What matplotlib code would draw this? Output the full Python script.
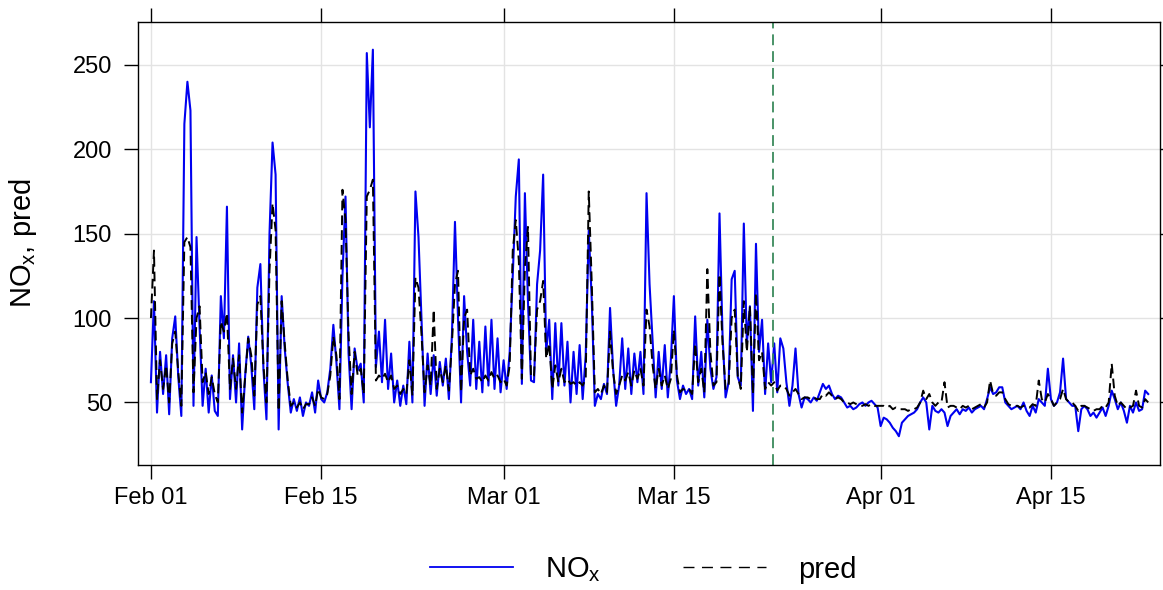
import matplotlib
matplotlib.use('Agg')
import matplotlib.pyplot as plt
from matplotlib.lines import Line2D
import pandas as pd

plt.rcParams['font.family'] = ['Liberation Sans', 'DejaVu Sans']
plt.rcParams['mathtext.default'] = 'regular'

start = '2020-02-01'
lockdown = '2020-03-23 04:00'

# 6-hourly values, one row per day (00h, 06h, 12h, 18h)
nox = [
    # Feb
    62, 110, 44, 80,
    55, 78, 43, 88,
    101, 65, 42, 215,
    240, 223, 48, 148,
    95, 48, 70, 44,
    66, 45, 42, 113,
    88, 166, 52, 78,
    50, 85, 34, 66,
    89, 72, 46, 118,
    132, 70, 40, 150,
    204, 185, 34, 113,
    82, 61, 44, 52,
    45, 53, 42, 50,
    48, 56, 44, 63,
    52, 50, 56, 70,
    96, 74, 46, 125,
    172, 79, 46, 82,
    69, 73, 50, 257,
    213, 259, 71, 92,
    62, 99, 58, 79,
    50, 63, 48, 60,
    49, 86, 50, 175,
    148, 99, 48, 79,
    55, 78, 54, 74,
    60, 76, 52, 90,
    157, 100, 50, 113,
    80, 60, 99, 58,
    86, 56, 95, 60,
    99, 58, 88, 56,
    # Mar
    75, 58, 80, 125,
    172, 194, 61, 174,
    110, 63, 62, 120,
    140, 185, 80, 99,
    52, 97, 60, 97,
    60, 86, 50, 80,
    55, 84, 52, 78,
    152, 110, 48, 55,
    52, 61, 55, 106,
    70, 48, 60, 88,
    58, 82, 55, 79,
    62, 80, 55, 174,
    120, 87, 53, 80,
    58, 84, 53, 75,
    113, 63, 52, 60,
    55, 58, 52, 101,
    60, 80, 53, 99,
    70, 58, 65, 162,
    90, 53, 62, 123,
    128, 65, 60, 156,
    85, 107, 45, 144,
    80, 99, 55, 85,
    62, 85, 56, 88,
    82, 62, 48, 60,
    82, 55, 47, 53,
    52, 50, 53, 51,
    56, 61, 58, 60,
    55, 52, 54, 53,
    50, 47, 48, 46,
    47, 49, 50, 48,
    50, 51, 49, 47,
    36, 41, 40, 38,
    # Apr
    35, 33, 30, 38,
    40, 42, 43, 44,
    46, 50, 53, 50,
    34, 48, 45, 44,
    46, 44, 36, 42,
    44, 46, 43, 46,
    45, 47, 44, 46,
    47, 48, 46, 52,
    59, 55, 56, 59,
    59, 50, 48, 46,
    47, 48, 46, 50,
    45, 42, 48, 44,
    52, 50, 48, 70,
    52, 48, 50, 56,
    76, 52, 50, 48,
    48, 33, 46, 48,
    46, 42, 44, 41,
    44, 47, 42, 48,
    57, 52, 46, 50,
    45, 38, 48, 44,
    50, 45, 46, 57,
    55,
]

pred = [
    # Feb
    100, 140, 52, 75,
    58, 72, 50, 85,
    92, 68, 48, 145,
    148, 142, 56, 100,
    107, 62, 68, 55,
    65, 55, 50, 98,
    92, 103, 58, 76,
    58, 78, 44, 65,
    88, 78, 54, 108,
    113, 72, 50, 128,
    168, 152, 45, 110,
    85, 63, 48, 50,
    47, 50, 46, 49,
    49, 53, 48, 58,
    53, 52, 55, 66,
    89, 78, 52, 176,
    158, 90, 55, 80,
    66, 70, 55, 172,
    176, 182, 63, 66,
    64, 67, 62, 66,
    58, 60, 55, 58,
    55, 75, 54, 124,
    118, 90, 56, 72,
    60, 105, 58, 70,
    62, 72, 57, 85,
    120, 128, 56, 100,
    105, 66, 70, 64,
    65, 62, 66, 63,
    68, 64, 66, 62,
    # Mar
    64, 60, 72, 140,
    158, 134, 64, 130,
    154, 65, 66, 105,
    110, 122, 76, 85,
    58, 72, 62, 70,
    62, 64, 61, 62,
    60, 62, 60, 64,
    175, 120, 56, 58,
    55, 60, 56, 92,
    68, 55, 60, 66,
    63, 68, 60, 69,
    64, 70, 60, 105,
    95, 72, 58, 70,
    60, 66, 58, 64,
    93, 66, 56, 58,
    57, 58, 55, 85,
    62, 70, 56, 129,
    80, 60, 62, 126,
    85, 58, 60, 100,
    105, 66, 58, 110,
    80, 107, 55, 115,
    75, 80, 58, 62,
    60, 62, 57, 60,
    60, 58, 54, 56,
    58, 55, 52, 53,
    53, 52, 53, 52,
    52, 55, 54, 56,
    54, 52, 53, 52,
    50, 50, 49, 50,
    49, 48, 48, 49,
    48, 49, 48, 48,
    48, 48, 47, 48,
    # Apr
    46, 47, 46, 46,
    46, 45, 46, 46,
    47, 50, 57, 52,
    55, 50, 48, 50,
    50, 62, 47, 48,
    48, 47, 46, 48,
    47, 48, 46, 47,
    48, 49, 47, 50,
    63, 55, 54, 56,
    56, 52, 49, 48,
    48, 48, 47, 48,
    48, 47, 49, 48,
    63, 52, 50, 55,
    52, 48, 50, 52,
    58, 52, 50, 50,
    48, 45, 48, 48,
    47, 46, 45, 46,
    46, 48, 47, 50,
    73, 54, 48, 50,
    48, 46, 47, 48,
    57, 48, 47, 52,
    50,
]

tick_dates = ['2020-02-01', '2020-02-15', '2020-03-01',
              '2020-03-15', '2020-04-01', '2020-04-15']
tick_labels = ['Feb 01', 'Feb 15', 'Mar 01', 'Mar 15', 'Apr 01', 'Apr 15']
y_ticks = [50, 100, 150, 200, 250]

times = pd.date_range(start, periods=len(nox), freq='6h')
t0 = pd.Timestamp(start)

fig = plt.figure(figsize=(11.63, 5.90), dpi=100)
ax = fig.add_axes([0.119, 0.212, 0.878, 0.751])

blue = '#0000F0'
ax.plot(times, nox, color=blue, lw=1.5)
ax.plot(times, pred, color='black', lw=1.4, dashes=(5, 2.6))
ax.axvline(pd.Timestamp(lockdown), color='#3A8A5C', lw=1.3, dashes=(6, 3.3))

ax.set_xlim(t0 - pd.Timedelta(days=1.03), t0 + pd.Timedelta(days=82.93))
ax.set_ylim(13, 275.5)
ax.set_xticks([pd.Timestamp(d) for d in tick_dates])
ax.set_xticklabels(tick_labels)
ax.set_yticks(y_ticks)

ax.grid(color='#E3E3E3', lw=1.0)
ax.set_axisbelow(True)
for s in ax.spines.values():
    s.set_linewidth(1.0)
ax.tick_params(direction='out', length=10, width=1.0, top=True, right=True,
               labelsize=17, color='black')
ax.tick_params(axis='x', pad=6)
ax.tick_params(axis='y', pad=9)
ax.set_ylabel('NO$_x$, pred', fontsize=21)
ax.yaxis.set_label_coords(-0.097, 0.5)

handles = [Line2D([], [], color=blue, lw=1.3),
           Line2D([], [], color='black', lw=1.0, dashes=(7.9, 5.4))]
fig.legend(handles, ['NO$_x$', 'pred'], loc='center',
           bbox_to_anchor=(0.553, 0.034), ncol=2, frameon=False,
           fontsize=21, handlelength=2.85, handletextpad=1.1,
           columnspacing=2.8)

fig.savefig('out.png', dpi=100)
